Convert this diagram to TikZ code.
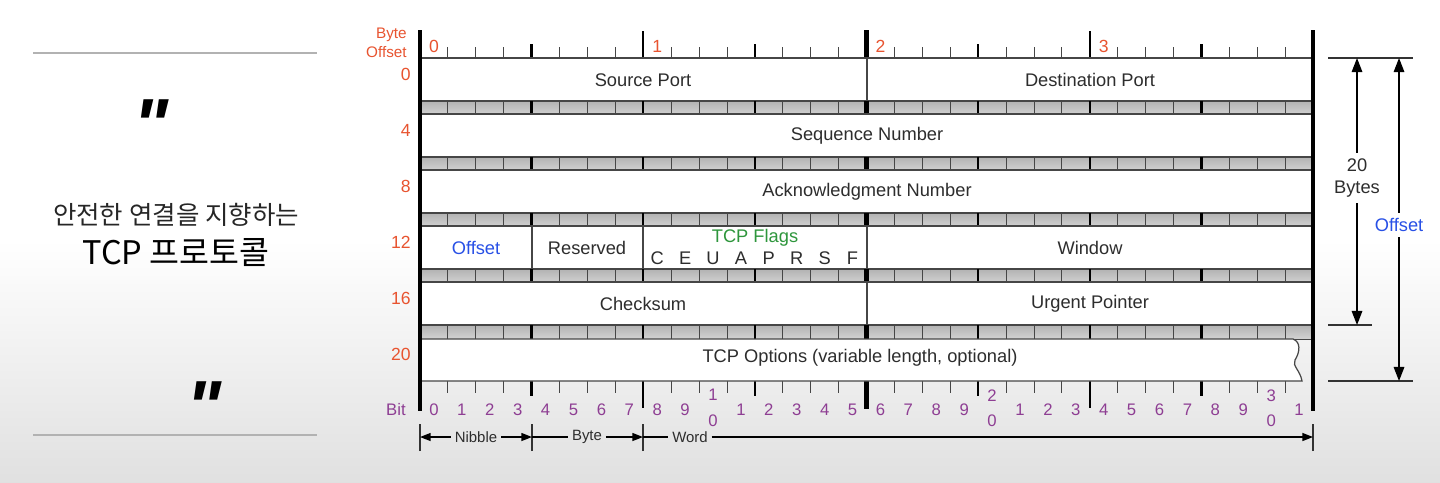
\documentclass[tikz,border=0pt]{standalone}
\usepackage{fontspec}
\setmainfont{Liberation Sans}
\newfontfamily\kofont{Noto Sans CJK KR}
\newfontfamily\quotefont{Liberation Sans}
\usetikzlibrary{arrows.meta, positioning}
\definecolor{offred}{RGB}{232,84,48}
\definecolor{bitpurple}{RGB}{142,62,147}
\definecolor{flaggreen}{RGB}{46,150,60}
\definecolor{offblue}{RGB}{40,80,230}
\definecolor{rulegray}{RGB}{70,70,70}
\definecolor{labeltext}{RGB}{45,45,45}
\tikzset{
  field/.style={draw=rulegray, line width=0.7pt, fill=white},
  band/.style={top color=gray!60, bottom color=gray!35, draw=rulegray, line width=0.5pt},
  thintick/.style={draw=gray!55!black, line width=0.5pt},
  nibtick/.style={draw=black, line width=1.3pt},
  wordtick/.style={draw=black, line width=2.8pt},
  busline/.style={draw=black, line width=2.8pt},
  lbl/.style={font=\fontsize{10.4}{12}\selectfont, text=labeltext, inner sep=0pt},
  rowno/.style={font=\fontsize{10}{12}\selectfont, text=offred, inner sep=0pt, anchor=east},
  bitno/.style={font=\fontsize{9.5}{14.5}\selectfont, text=bitpurple, inner sep=0pt, align=center},
  small/.style={font=\fontsize{8.5}{10}\selectfont, text=labeltext, inner sep=2pt},
  dimline/.style={draw=gray!40!black, line width=0.8pt},
  dimarrow/.style={draw=black, line width=0.8pt, -{Triangle[length=8pt,width=6pt]}},
  rulearrow/.style={draw=black, line width=0.7pt, -{Triangle[length=6pt,width=4.5pt]}},
  quotemark/.style={font=\quotefont\fontsize{42}{42}\selectfont\bfseries\itshape, inner sep=0pt}
}
\newcommand{\bitx}[1]{420+27.906*(#1)}
\begin{document}
\begin{tikzpicture}[x=0.2mm, y=-0.2mm]
\useasboundingbox (0,0) rectangle (1440,482);
% background
\fill[white] (0,0) rectangle (1440,240);
\shade[top color=white, bottom color=gray!24] (0,240) rectangle (1440,482);

% left title panel
\draw[gray!60, line width=0.8pt] (33,53) -- (317,53);
\draw[gray!60, line width=0.8pt] (33,435) -- (317,435);
\node[quotemark] (qopen) at (151,125) {"};
\node[quotemark] (qclose) at (204,407) {"};
\node[font=\kofont\fontsize{14.5}{16}\selectfont, text=black!85] (subtitle) at (176,215) {안전한 연결을 지향하는};
\node[font=\kofont\fontsize{18.5}{20}\selectfont, text=black] (title) at (176,253) {TCP 프로토콜};

% byte offset ruler
\node[font=\fontsize{8.7}{10.5}\selectfont, text=offred, align=right, inner sep=0pt, anchor=east] (byteoff) at (407,43) {Byte\\Offset};
\foreach \b in {0,1,2,3}
  \node[font=\fontsize{10}{12}\selectfont, text=offred, inner sep=0pt] (byte\b) at ({\bitx{8*\b+0.5}},46) {\b};
\foreach \i in {1,...,31}{
  \pgfmathtruncatemacro\m{mod(\i,4)}
  \pgfmathtruncatemacro\n{mod(\i,8)}
  \ifnum\i=16
    \draw[wordtick] ({\bitx{\i}},30) -- ({\bitx{\i}},58);
    \draw[wordtick] ({\bitx{\i}},381) -- ({\bitx{\i}},409);
  \else\ifnum\n=0
    \draw[nibtick] ({\bitx{\i}},31) -- ({\bitx{\i}},58);
    \draw[nibtick] ({\bitx{\i}},381) -- ({\bitx{\i}},408);
  \else\ifnum\m=0
    \draw[nibtick] ({\bitx{\i}},44) -- ({\bitx{\i}},58);
    \draw[nibtick] ({\bitx{\i}},381) -- ({\bitx{\i}},396);
  \else
    \draw[thintick] ({\bitx{\i}},47) -- ({\bitx{\i}},58);
    \draw[thintick] ({\bitx{\i}},381) -- ({\bitx{\i}},393);
  \fi\fi\fi
}

% header rows
\foreach \r in {0,...,4}{
  \pgfmathsetmacro\yt{58+56*\r}
  \draw[field] (420,\yt) rectangle (1313,\yt+43);
  \shade[band] (420,\yt+43) rectangle (1313,\yt+57);
  \foreach \i in {1,...,31}{
    \pgfmathtruncatemacro\m{mod(\i,4)}
    \def\tk{thintick}
    \ifnum\m=0 \def\tk{nibtick}\fi
    \ifnum\i=16 \def\tk{wordtick}\fi
    \draw[\tk] ({\bitx{\i}},\yt+43) -- ({\bitx{\i}},\yt+57);
  }
}
% options row, torn right edge
\draw[field] (420,339) -- (1293,339) .. controls (1301,342) and (1300,352) .. (1295,360)
  .. controls (1292,366) and (1300,370) .. (1302,381) -- (420,381) -- cycle;

% field dividers
\draw[rulegray, line width=0.7pt] (867,58) -- (867,101);
\draw[rulegray, line width=0.7pt] (532,227) -- (532,269);
\draw[rulegray, line width=0.7pt] (643,227) -- (643,269);
\draw[rulegray, line width=0.7pt] (867,227) -- (867,269);
\draw[rulegray, line width=0.7pt] (867,283) -- (867,325);

% field labels
\node[lbl] (srcport) at (643,80) {Source Port};
\node[lbl] (dstport) at (1090,80) {Destination Port};
\node[lbl] (seqnum) at (867,136) {Sequence Number};
\node[lbl] (acknum) at (867,192) {Acknowledgment Number};
\node[lbl, text=offblue] (dataoff) at (476,248) {Offset};
\node[lbl] (reserved) at (587,248) {Reserved};
\node[lbl, text=flaggreen] (flags) at (755,238) {TCP Flags};
\foreach \f [count=\k from 8] in {C,E,U,A,P,R,S,F}
  \node[lbl] (flag\f) at ({\bitx{\k+0.5}},258) {\f};
\node[lbl] (window) at (1090,248) {Window};
\node[lbl] (checksum) at (643,304) {Checksum};
\node[lbl] (urgent) at (1090,304) {Urgent Pointer};
\node[lbl] (options) at (860,358) {TCP Options (variable length, optional)};

% row offsets
\foreach \r/\v in {0/0,1/4,2/8,3/12,4/16,5/20}
  \node[rowno] (row\v) at (411,{74+56*\r}) {\v};

% outer bus lines
\draw[busline] (420,30) -- (420,411);
\draw[busline] (1313,30) -- (1313,411);

% bit numbers
\node[font=\fontsize{9.5}{12}\selectfont, text=bitpurple, inner sep=0pt, anchor=east] (bitlbl) at (406,410) {Bit};
\foreach \i in {0,...,31}{
  \pgfmathtruncatemacro\d{mod(\i,10)}
  \pgfmathtruncatemacro\t{\i/10}
  \ifnum\d=0 \ifnum\t>0
    \node[bitno] (bit\i) at ({\bitx{\i+0.5}},408) {\t\\\d};
  \else
    \node[bitno] (bit\i) at ({\bitx{\i+0.5}},410) {\d};
  \fi\else
    \node[bitno] (bit\i) at ({\bitx{\i+0.5}},410) {\d};
  \fi
}

% nibble / byte / word scale
\coordinate (s0) at (420,437);
\coordinate (s4) at (532,437);
\coordinate (s8) at (643,437);
\coordinate (s32) at (1313,437);
\foreach \c in {s0,s4,s8,s32}
  \draw[gray!40!black, line width=0.7pt] ([yshift=-2.8mm]\c) -- ([yshift=2.6mm]\c);
\node[small] (nibble) at (476,437) {Nibble};
\node[small] (bytew) at (587,437) {Byte};
\node[small] (word) at (690,437) {Word};
\draw[rulearrow] (nibble) -- (s0);
\draw[rulearrow] (nibble) -- (s4);
\draw[line width=0.7pt] (s4) -- (bytew);
\draw[rulearrow] (bytew) -- (s8);
\draw[line width=0.7pt] (s8) -- (word);
\draw[rulearrow] (word) -- (s32);

% size markers on the right
\draw[dimline] (1328,58) -- (1413,58);
\draw[dimline] (1328,325) -- (1372,325);
\draw[dimline] (1328,381) -- (1413,381);
\coordinate (twtop) at (1357,58);
\coordinate (twbot) at (1357,325);
\coordinate (offtop) at (1399,58);
\coordinate (offbot) at (1399,381);
\node[font=\fontsize{10.4}{13}\selectfont, text=labeltext, align=center, inner sep=3pt] (twenty) at (1357,178) {20\\Bytes};
\node[font=\fontsize{10.4}{12}\selectfont, text=offblue, inner sep=3pt] (hdroff) at (1399,225) {Offset};
\draw[dimarrow] (twenty) -- (twtop);
\draw[dimarrow] (twenty) -- (twbot);
\draw[dimarrow] (hdroff) -- (offtop);
\draw[dimarrow] (hdroff) -- (offbot);
\end{tikzpicture}
\end{document}
